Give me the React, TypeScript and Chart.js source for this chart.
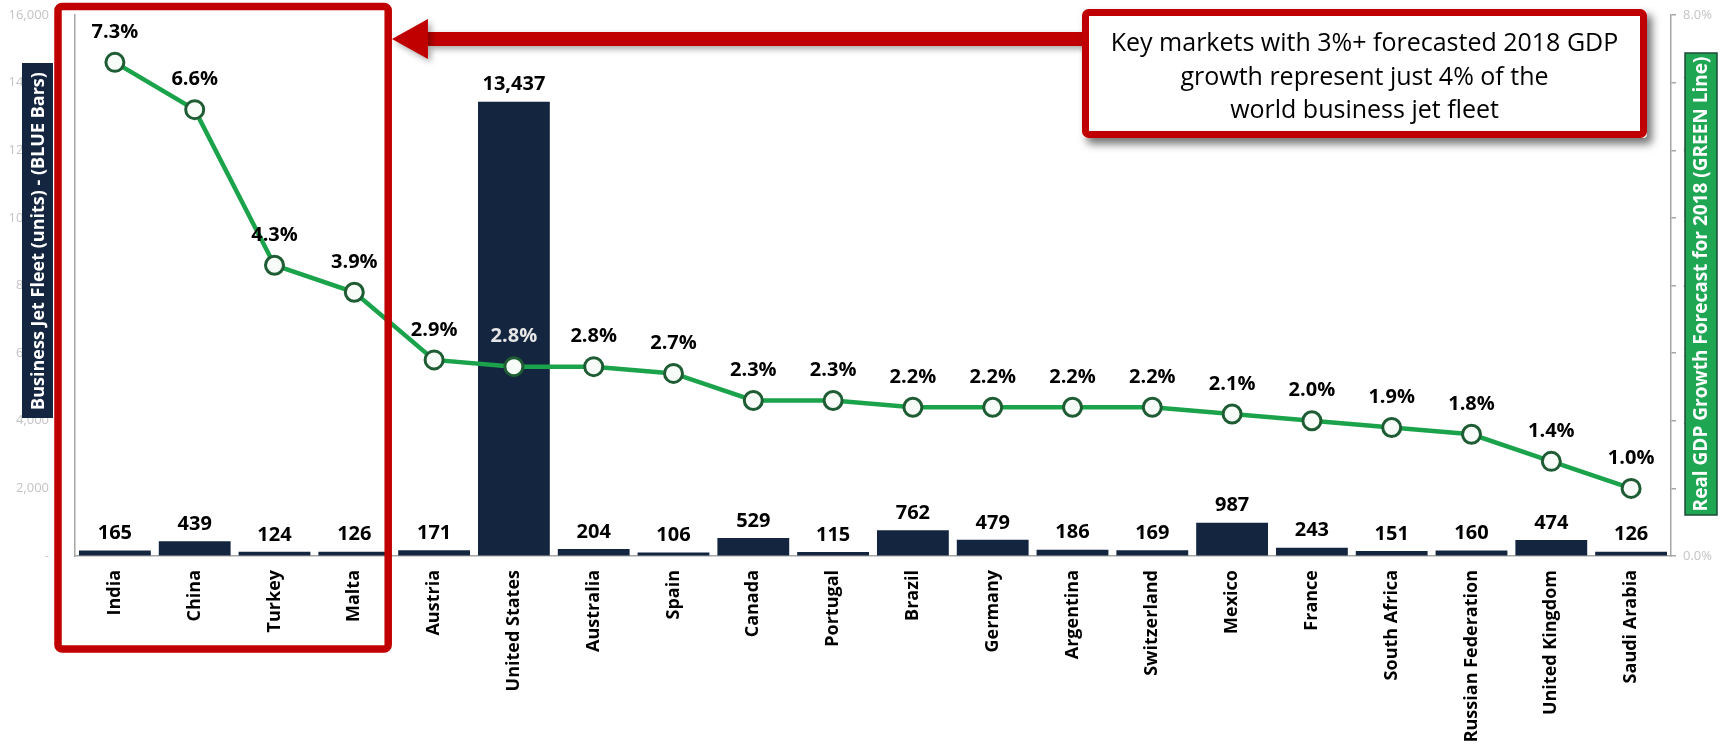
import React, { useEffect, useRef } from "react";
import { Chart, registerables } from "chart.js";

Chart.register(...registerables);

const countries = [
  "India", "China", "Turkey", "Malta", "Austria", "United States", "Australia", "Spain",
  "Canada", "Portugal", "Brazil", "Germany", "Argentina", "Switzerland", "Mexico", "France",
  "South Africa", "Russian Federation", "United Kingdom", "Saudi Arabia",
];
const fleetUnits = [165, 439, 124, 126, 171, 13437, 204, 106, 529, 115, 762, 479, 186, 169, 987, 243, 151, 160, 474, 126];
const gdpGrowth = [7.3, 6.6, 4.3, 3.9, 2.9, 2.8, 2.8, 2.7, 2.3, 2.3, 2.2, 2.2, 2.2, 2.2, 2.1, 2.0, 1.9, 1.8, 1.4, 1.0];
const highlightCount = 4;
const calloutLines = [
  "Key markets with 3%+ forecasted 2018 GDP",
  "growth represent just 4% of the",
  "world business jet fleet",
];
const leftTitle = "Business Jet Fleet (units) - (BLUE Bars)";
const rightTitle = "Real GDP Growth Forecast for 2018 (GREEN Line)";

const FONT = "'Open Sans', 'DejaVu Sans', sans-serif";
const RED = "#C00000";
const NAVY = "#14253F";
const GREEN = "#1BA34B";
const AXIS_GRAY = "#A6A6A6";
const TICK_GRAY = "#C4C4C4";

const overlayPlugin = {
  id: "overlay",
  afterDatasetsDraw(chart: any) {
    const ctx = chart.ctx;
    const barMeta = chart.getDatasetMeta(0);
    const lineMeta = chart.getDatasetMeta(1);
    ctx.save();
    ctx.font = `bold 20px ${FONT}`;
    ctx.textAlign = "center";
    ctx.textBaseline = "middle";
    barMeta.data.forEach((bar: any, i: number) => {
      ctx.fillStyle = "#000";
      ctx.fillText(fleetUnits[i].toLocaleString("en-US"), bar.x, bar.y - 17);
    });
    lineMeta.data.forEach((pt: any, i: number) => {
      const ly = pt.y - 30;
      const bar = barMeta.data[i];
      const onBar = ly - 8 > bar.y;
      ctx.fillStyle = onBar ? "#E6E6E6" : "#000";
      ctx.fillText(gdpGrowth[i].toFixed(1) + "%", pt.x, ly);
    });
    ctx.restore();
  },
  afterDraw(chart: any) {
    const ctx = chart.ctx;
    const ca = chart.chartArea;
    const xs = chart.scales.x;
    const step = xs.getPixelForValue(1) - xs.getPixelForValue(0);
    ctx.save();

    // highlight box around the high-growth markets
    const lw = 7.5;
    const bLeft = ca.left - 17;
    const bRight = xs.getPixelForValue(highlightCount - 1) + step / 2 - 6;
    const bTop = 6.5;
    const bBottom = 649;
    ctx.strokeStyle = RED;
    ctx.lineWidth = lw;
    ctx.beginPath();
    (ctx as any).roundRect(bLeft, bTop, bRight - bLeft, bBottom - bTop, 4);
    ctx.stroke();

    // callout box geometry
    const cLeft = 1082;
    const cTop = 9;
    const cRight = ca.right - 24;
    const cBottom = 138;

    // arrow
    const tipX = bRight + lw / 2;
    const cy = 39;
    const baseX = tipX + 36;
    ctx.fillStyle = RED;
    ctx.save();
    ctx.shadowColor = "rgba(0,0,0,0.35)";
    ctx.shadowBlur = 6;
    ctx.shadowOffsetX = 3;
    ctx.shadowOffsetY = 3;
    ctx.fillRect(baseX - 1, cy - 7, cLeft + 6 - baseX, 14);
    ctx.beginPath();
    ctx.moveTo(tipX, cy);
    ctx.lineTo(baseX, cy - 20);
    ctx.lineTo(baseX, cy + 20);
    ctx.closePath();
    ctx.fill();
    ctx.restore();

    // callout box
    ctx.save();
    ctx.shadowColor = "rgba(0,0,0,0.55)";
    ctx.shadowBlur = 9;
    ctx.shadowOffsetX = 5;
    ctx.shadowOffsetY = 6;
    ctx.fillStyle = "#FFFFFF";
    ctx.beginPath();
    (ctx as any).roundRect(cLeft, cTop, cRight - cLeft, cBottom - cTop, 4);
    ctx.fill();
    ctx.restore();
    ctx.strokeStyle = RED;
    ctx.lineWidth = 7;
    ctx.beginPath();
    (ctx as any).roundRect(cLeft + 3.5, cTop + 3.5, cRight - cLeft - 7, cBottom - cTop - 7, 3);
    ctx.stroke();
    ctx.fillStyle = "#000";
    ctx.font = `25px ${FONT}`;
    ctx.textAlign = "center";
    ctx.textBaseline = "middle";
    const cx = (cLeft + cRight) / 2;
    calloutLines.forEach((line, i) => {
      ctx.fillText(line, cx, 44 + i * 33.5);
    });

    // left axis title box
    ctx.fillStyle = NAVY;
    ctx.fillRect(22, 63, 31, 355);
    ctx.save();
    ctx.translate(38, 241);
    ctx.rotate(-Math.PI / 2);
    ctx.fillStyle = "#FFFFFF";
    ctx.font = `bold 18px ${FONT}`;
    ctx.textAlign = "center";
    ctx.textBaseline = "middle";
    ctx.fillText(leftTitle, 0, 1);
    ctx.restore();

    // right axis title box
    ctx.fillStyle = "#1FA653";
    ctx.fillRect(1685, 53, 32, 462);
    ctx.strokeStyle = "#1B4A3A";
    ctx.lineWidth = 1.5;
    ctx.strokeRect(1685, 53, 32, 462);
    ctx.save();
    ctx.translate(1701, 284);
    ctx.rotate(-Math.PI / 2);
    ctx.fillStyle = "#FFFFFF";
    ctx.font = `bold 19px ${FONT}`;
    ctx.textAlign = "center";
    ctx.textBaseline = "middle";
    ctx.fillText(rightTitle, 0, 1);
    ctx.restore();

    ctx.restore();
  },
};

const fitVertical = (width: number) => (s: any) => {
  s.width = width;
  s.paddingTop = 0;
  s.paddingBottom = 0;
};

export default function App() {
  const canvasRef = useRef<HTMLCanvasElement | null>(null);

  useEffect(() => {
    if (!canvasRef.current) return;
    const chart = new Chart(canvasRef.current, {
      type: "bar",
      data: {
        labels: countries,
        datasets: [
          {
            type: "bar",
            label: "Business Jet Fleet",
            data: fleetUnits,
            backgroundColor: NAVY,
            yAxisID: "y",
            barPercentage: 0.9,
            categoryPercentage: 1.0,
            order: 2,
          } as any,
          {
            type: "line",
            label: "Real GDP Growth",
            data: gdpGrowth,
            yAxisID: "y1",
            borderColor: GREEN,
            borderWidth: 4.5,
            pointRadius: 9,
            pointBorderWidth: 3,
            pointBorderColor: "#1E5C33",
            pointBackgroundColor: "#F7FCF8",
            tension: 0,
            clip: false,
            order: 1,
          } as any,
        ],
      },
      options: {
        animation: false,
        responsive: true,
        maintainAspectRatio: false,
        layout: { autoPadding: false, padding: { left: 0, right: 0, top: 15, bottom: 0 } },
        plugins: {
          legend: { display: false },
          tooltip: { enabled: false },
        },
        scales: {
          x: {
            grid: { display: true, drawOnChartArea: false, drawTicks: false },
            border: { display: true, color: AXIS_GRAY, width: 1.5 },
            ticks: {
              autoSkip: false,
              maxRotation: 90,
              minRotation: 90,
              padding: 14,
              color: "#000",
              font: { family: FONT, size: 18, weight: "bold" },
            },
            afterFit: (s: any) => {
              s.height = 194;
              s.paddingLeft = 0;
              s.paddingRight = 0;
            },
          },
          y: {
            position: "left",
            min: 0,
            max: 16000,
            ticks: {
              stepSize: 2000,
              padding: 26,
              color: TICK_GRAY,
              font: { family: FONT, size: 13 },
              callback: (v: any) => (Number(v) === 0 ? "-" : Number(v).toLocaleString("en-US")),
            },
            grid: { display: true, drawOnChartArea: false, drawTicks: false },
            border: { display: true, color: AXIS_GRAY, width: 1.5 },
            afterFit: fitVertical(75),
          },
          y1: {
            position: "right",
            min: 0,
            max: 8,
            ticks: {
              stepSize: 1,
              padding: 7,
              color: TICK_GRAY,
              font: { family: FONT, size: 13 },
              callback: (v: any) => Number(v).toFixed(1) + "%",
            },
            grid: { display: true, drawOnChartArea: false, drawTicks: true, tickLength: 5, color: AXIS_GRAY, lineWidth: 1.5 },
            border: { display: true, color: AXIS_GRAY, width: 1.5 },
            afterFit: fitVertical(51),
          },
        },
      } as any,
      plugins: [overlayPlugin],
    });
    return () => chart.destroy();
  }, []);

  return (
    <div style={{ position: "absolute", left: 0, top: 0, width: 1722, height: 750, background: "#fff" }}>
      <canvas ref={canvasRef} />
    </div>
  );
}
